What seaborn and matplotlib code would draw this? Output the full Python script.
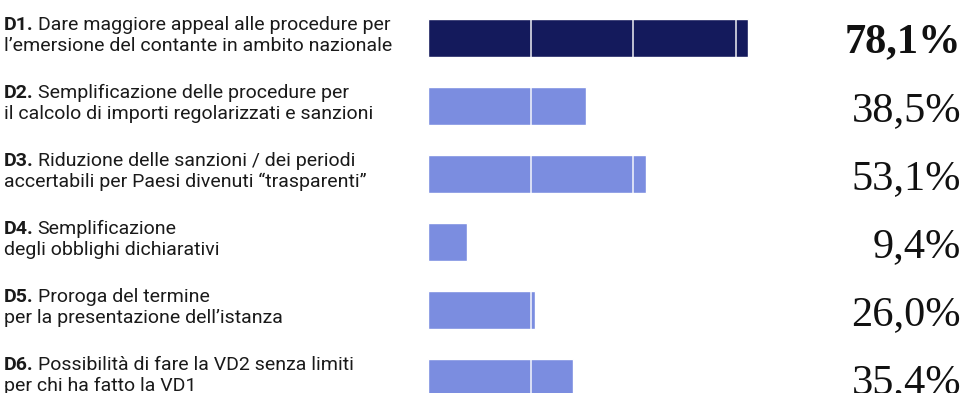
import matplotlib
matplotlib.use("Agg")
import matplotlib.pyplot as plt
import matplotlib.transforms as mtransforms
import seaborn as sns

# data
codes = ["D1", "D2", "D3", "D4", "D5", "D6"]
line1 = [
    "Dare maggiore appeal alle procedure per",
    "Semplificazione delle procedure per",
    "Riduzione delle sanzioni / dei periodi",
    "Semplificazione",
    "Proroga del termine",
    "Possibilità di fare la VD2 senza limiti",
]
line2 = [
    "l’emersione del contante in ambito nazionale",
    "il calcolo di importi regolarizzati e sanzioni",
    "accertabili per Paesi divenuti “trasparenti”",
    "degli obblighi dichiarativi",
    "per la presentazione dell’istanza",
    "per chi ha fatto la VD1",
]
values = [78.1, 38.5, 53.1, 9.4, 26.0, 35.4]
value_labels = ["78,1%", "38,5%", "53,1%", "9,4%", "26,0%", "35,4%"]

DARK = "#141a5c"
LIGHT = "#7b8de0"
colors = [DARK] + [LIGHT] * 5

sns.set_style("white")
plt.rcParams["font.family"] = ["Roboto", "DejaVu Sans"]

W, H = 966, 393
fig = plt.figure(figsize=(W / 100, H / 100), dpi=100)
# axes: x from 428px (0%) to 838px (100%), rows spaced 68px starting at 38px
top_px = 38 - 34
bot_px = 38 + 5 * 68 + 34
ax = fig.add_axes([428 / W, (H - bot_px) / H, 410 / W, (bot_px - top_px) / H])

sns.barplot(x=values, y=codes, hue=codes, palette=colors, legend=False,
            orient="h", width=0.56, saturation=1, ax=ax)
ax.set_xlim(0, 100)
ax.set_ylim(5.5, -0.5)
for v in (25, 50, 75):
    ax.axvline(v, color="white", lw=1.2, alpha=0.85, zorder=5)
ax.axis("off")

tr = mtransforms.blended_transform_factory(fig.transFigure, ax.transData)
renderer = fig.canvas.get_renderer()
fs = 14
for i, code in enumerate(codes):
    t = fig.text(4 / W, i - 0.12, code + ".", transform=tr, fontsize=fs,
                 fontweight="bold", va="baseline", color="#1a1a1a")
    bb = t.get_window_extent(renderer=renderer)
    fig.text((bb.x1 + 4) / W, i - 0.12, line1[i], transform=tr, fontsize=fs,
             va="baseline", color="#1a1a1a")
    fig.text(4 / W, i + 0.19, line2[i], transform=tr, fontsize=fs,
             va="baseline", color="#1a1a1a")
    fig.text(961 / W, i, value_labels[i], transform=tr, fontsize=30.5,
             family="Liberation Serif", fontweight="bold" if i == 0 else "normal",
             ha="right", va="center_baseline", color="#111111")

fig.savefig("out.png", dpi=100)
